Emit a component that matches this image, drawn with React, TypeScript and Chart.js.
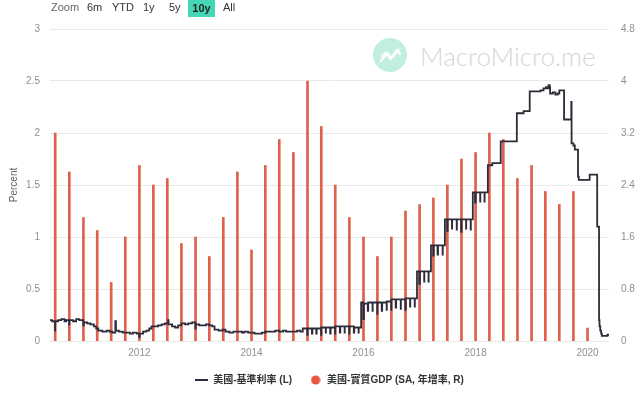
import React, { useEffect, useRef } from 'react';
import { Chart, registerables } from 'chart.js';

Chart.register(...registerables);

const FONT = "'Liberation Sans', 'Noto Sans CJK TC', sans-serif";
const LINE_COLOR = '#2c2c3a';
const BAR_COLOR = '#df604b';
const DOT_COLOR = '#e8553d';

// ---- Data ----
const axisStart = '2010-05-28';
const axisEnd = '2020-05-20';

const xTickYears = [2012, 2014, 2016, 2018, 2020];
const leftTicks = [0, 0.5, 1, 1.5, 2, 2.5, 3];
const rightTicks = [0, 0.8, 1.6, 2.4, 3.2, 4, 4.8];

const gdpDates = [
  '2010-07-01', '2010-10-01',
  '2011-01-01', '2011-04-01', '2011-07-01', '2011-10-01',
  '2012-01-01', '2012-04-01', '2012-07-01', '2012-10-01',
  '2013-01-01', '2013-04-01', '2013-07-01', '2013-10-01',
  '2014-01-01', '2014-04-01', '2014-07-01', '2014-10-01',
  '2015-01-01', '2015-04-01', '2015-07-01', '2015-10-01',
  '2016-01-01', '2016-04-01', '2016-07-01', '2016-10-01',
  '2017-01-01', '2017-04-01', '2017-07-01', '2017-10-01',
  '2018-01-01', '2018-04-01', '2018-07-01', '2018-10-01',
  '2019-01-01', '2019-04-01', '2019-07-01', '2019-10-01',
  '2020-01-01',
];
const gdpValues = [
  3.2, 2.6,
  1.9, 1.7, 0.9, 1.6,
  2.7, 2.4, 2.5, 1.5,
  1.6, 1.3, 1.9, 2.6,
  1.4, 2.7, 3.1, 2.9,
  4.0, 3.3, 2.4, 1.9,
  1.6, 1.3, 1.6, 2.0,
  2.1, 2.2, 2.4, 2.8,
  2.9, 3.2, 3.1, 2.5,
  2.7, 2.3, 2.1, 2.3,
  0.2,
];

const rate2010_2011: [string, number][] = [
  ['2010-05-28', 0.20], ['2010-06-10', 0.19], ['2010-06-30', 0.10], ['2010-07-01', 0.19],
  ['2010-07-20', 0.20], ['2010-08-10', 0.21], ['2010-08-31', 0.19], ['2010-09-10', 0.20],
  ['2010-09-30', 0.16], ['2010-10-01', 0.20], ['2010-10-25', 0.19], ['2010-11-15', 0.21],
  ['2010-12-05', 0.20], ['2010-12-31', 0.15], ['2011-01-03', 0.18], ['2011-01-25', 0.17],
  ['2011-02-15', 0.16], ['2011-03-10', 0.14], ['2011-03-25', 0.12], ['2011-04-08', 0.10],
  ['2011-05-05', 0.09], ['2011-06-01', 0.10], ['2011-06-20', 0.09], ['2011-07-08', 0.08],
  ['2011-07-28', 0.19], ['2011-08-01', 0.10], ['2011-08-20', 0.09], ['2011-09-15', 0.08],
  ['2011-10-10', 0.08], ['2011-10-31', 0.07], ['2011-11-20', 0.08], ['2011-12-15', 0.07],
  ['2011-12-30', 0.04],
];

const rate2012_2013: [string, number][] = [
  ['2012-01-03', 0.07], ['2012-01-25', 0.09], ['2012-02-15', 0.10], ['2012-03-05', 0.12],
  ['2012-03-20', 0.14], ['2012-04-10', 0.14], ['2012-05-01', 0.15], ['2012-05-25', 0.16],
  ['2012-06-15', 0.17], ['2012-07-06', 0.20], ['2012-07-09', 0.16], ['2012-08-01', 0.14],
  ['2012-08-20', 0.13], ['2012-09-10', 0.15], ['2012-10-01', 0.17], ['2012-10-25', 0.16],
  ['2012-11-15', 0.17], ['2012-12-10', 0.18], ['2012-12-31', 0.12], ['2013-01-02', 0.16],
  ['2013-01-25', 0.15], ['2013-02-15', 0.15], ['2013-03-10', 0.16], ['2013-04-01', 0.15],
  ['2013-04-20', 0.14], ['2013-05-05', 0.11], ['2013-06-01', 0.10], ['2013-06-25', 0.11],
  ['2013-07-15', 0.09], ['2013-08-10', 0.08], ['2013-09-05', 0.09], ['2013-10-01', 0.09],
  ['2013-10-31', 0.08], ['2013-11-15', 0.09], ['2013-12-10', 0.08],
];

const rate2014_2015: [string, number][] = [
  ['2014-01-02', 0.08], ['2014-01-20', 0.07], ['2014-02-15', 0.07], ['2014-03-10', 0.08],
  ['2014-04-01', 0.09], ['2014-04-25', 0.09], ['2014-05-15', 0.09], ['2014-06-05', 0.10],
  ['2014-07-01', 0.09], ['2014-07-25', 0.10], ['2014-08-15', 0.09], ['2014-09-05', 0.09],
  ['2014-10-01', 0.09], ['2014-10-25', 0.10], ['2014-11-15', 0.09], ['2014-12-01', 0.12],
  ['2014-12-31', 0.06], ['2015-01-02', 0.12], ['2015-01-30', 0.07], ['2015-02-02', 0.12],
  ['2015-02-27', 0.07], ['2015-03-02', 0.12], ['2015-03-31', 0.06], ['2015-04-01', 0.13],
  ['2015-04-30', 0.08], ['2015-05-01', 0.13], ['2015-05-29', 0.07], ['2015-06-01', 0.13],
  ['2015-06-30', 0.07], ['2015-07-01', 0.14], ['2015-07-31', 0.08], ['2015-08-03', 0.14],
  ['2015-08-31', 0.08], ['2015-09-01', 0.14], ['2015-09-30', 0.07], ['2015-10-01', 0.14],
  ['2015-10-30', 0.08], ['2015-11-02', 0.13], ['2015-11-30', 0.08], ['2015-12-01', 0.13],
];

const rate2016_2018: [string, number][] = [
  ['2015-12-17', 0.37], ['2015-12-31', 0.21], ['2016-01-04', 0.36],
  ['2016-01-29', 0.29], ['2016-02-01', 0.37], ['2016-02-29', 0.29], ['2016-03-01', 0.37],
  ['2016-03-31', 0.26], ['2016-04-01', 0.37], ['2016-04-29', 0.29], ['2016-05-02', 0.37],
  ['2016-05-31', 0.30], ['2016-06-01', 0.38], ['2016-06-30', 0.30], ['2016-07-01', 0.40],
  ['2016-07-29', 0.32], ['2016-08-01', 0.40], ['2016-08-31', 0.31], ['2016-09-01', 0.40],
  ['2016-09-30', 0.30], ['2016-10-03', 0.41], ['2016-10-31', 0.33], ['2016-11-01', 0.41],
  ['2016-11-30', 0.33], ['2016-12-01', 0.41],
  ['2016-12-15', 0.67], ['2016-12-30', 0.55], ['2017-01-03', 0.67], ['2017-01-31', 0.57],
  ['2017-02-01', 0.67], ['2017-02-28', 0.57], ['2017-03-01', 0.67],
  ['2017-03-16', 0.92], ['2017-03-31', 0.82], ['2017-04-03', 0.92], ['2017-04-28', 0.83],
  ['2017-05-01', 0.92], ['2017-05-31', 0.83], ['2017-06-01', 0.92],
  ['2017-06-15', 1.17], ['2017-06-30', 1.06], ['2017-07-03', 1.17], ['2017-07-31', 1.08],
  ['2017-08-01', 1.17], ['2017-08-31', 1.07], ['2017-09-01', 1.17], ['2017-09-29', 1.05],
  ['2017-10-02', 1.17], ['2017-10-31', 1.08], ['2017-11-01', 1.17], ['2017-11-30', 1.07],
  ['2017-12-01', 1.17],
  ['2017-12-14', 1.43], ['2017-12-29', 1.33], ['2018-01-02', 1.43], ['2018-01-31', 1.34],
  ['2018-02-01', 1.43], ['2018-02-28', 1.34], ['2018-03-01', 1.43],
  ['2018-03-22', 1.69], ['2018-04-20', 1.71], ['2018-06-14', 1.92], ['2018-08-01', 1.92],
  ['2018-09-27', 2.19], ['2018-11-10', 2.21], ['2018-12-20', 2.40],
];

const rate2019_2020: [string, number][] = [
  ['2019-01-10', 2.40], ['2019-03-01', 2.41], ['2019-03-20', 2.43], ['2019-04-05', 2.44],
  ['2019-04-15', 2.43], ['2019-04-22', 2.46], ['2019-04-29', 2.44], ['2019-05-02', 2.38],
  ['2019-05-20', 2.39], ['2019-06-05', 2.37], ['2019-06-20', 2.38], ['2019-07-01', 2.41],
  ['2019-08-01', 2.13], ['2019-09-17', 2.30], ['2019-09-19', 1.90], ['2019-10-01', 1.88],
  ['2019-10-10', 1.84], ['2019-10-31', 1.58], ['2019-11-05', 1.55], ['2020-01-15', 1.60],
  ['2020-03-04', 1.10], ['2020-03-16', 0.20], ['2020-03-19', 0.14], ['2020-03-24', 0.10],
  ['2020-03-30', 0.07], ['2020-04-03', 0.05], ['2020-05-01', 0.05], ['2020-05-10', 0.06],
  ['2020-05-20', 0.06],
];

const zoomLabels = ['6m', 'YTD', '1y', '5y', '10y', 'All'];
const zoomLefts = [87, 112, 143, 169, 188, 223];

const t = (s: string) => Date.parse(s + 'T00:00:00Z');

export default function App() {
  const ref = useRef<HTMLCanvasElement>(null);

  useEffect(() => {
    const canvas = ref.current;
    if (!canvas) return;

    const lineIcon = document.createElement('canvas');
    lineIcon.width = 13;
    lineIcon.height = 2;
    const lc = lineIcon.getContext('2d')!;
    lc.fillStyle = LINE_COLOR;
    lc.fillRect(0, 0, 13, 2);

    const dotIcon = document.createElement('canvas');
    dotIcon.width = 10;
    dotIcon.height = 10;
    const dc = dotIcon.getContext('2d')!;
    dc.fillStyle = DOT_COLOR;
    dc.beginPath();
    dc.arc(5, 5, 4.6, 0, Math.PI * 2);
    dc.fill();

    const ratePoints = [...rate2010_2011, ...rate2012_2013, ...rate2014_2015, ...rate2016_2018, ...rate2019_2020]
      .map(([d, v]) => ({ x: t(d), y: v }));
    const gdpPoints = gdpDates.map((d, i) => ({ x: t(d), y: gdpValues[i] }));

    const tickFont = { family: FONT, size: 10 };

    const chart = new Chart(canvas, {
      type: 'bar',
      data: {
        datasets: [
          {
            type: 'line',
            label: '美國-基準利率 (L)',
            data: ratePoints,
            yAxisID: 'y',
            borderColor: LINE_COLOR,
            backgroundColor: LINE_COLOR,
            borderWidth: 1.8,
            pointRadius: 0,
            pointHoverRadius: 0,
            stepped: true,
            fill: false,
            order: 0,
            pointStyle: lineIcon,
          } as any,
          {
            type: 'bar',
            label: '美國-實質GDP (SA, 年增率, R)',
            data: gdpPoints,
            yAxisID: 'y1',
            backgroundColor: BAR_COLOR,
            borderWidth: 0,
            barThickness: 2,
            grouped: false,
            order: 1,
            pointStyle: dotIcon,
          } as any,
        ],
      },
      options: {
        animation: false,
        responsive: false,
        maintainAspectRatio: false,
        layout: { padding: { top: 29, left: 0, right: 0, bottom: -2 } },
        plugins: {
          tooltip: { enabled: false },
          legend: {
            position: 'bottom',
            fullSize: false,
            labels: {
              usePointStyle: true,
              pointStyleWidth: 13,
              boxHeight: 10,
              padding: 17,
              color: '#333',
              font: { family: FONT, size: 10, weight: 'bold' },
            },
          },
        },
        scales: {
          x: {
            type: 'linear',
            offset: false,
            min: t(axisStart),
            max: t(axisEnd),
            grid: { display: false, offset: false, drawTicks: false },
            border: { display: false },
            ticks: {
              color: '#909090',
              font: tickFont,
              padding: 6,
              maxRotation: 0,
              autoSkip: false,
              callback: (v: any) => String(new Date(Number(v)).getUTCFullYear()),
            },
            afterBuildTicks: (s: any) => {
              s.ticks = xTickYears.map((y) => ({ value: Date.UTC(y, 0, 1) }));
            },
            afterFit: (s: any) => {
              s.height = 17;
            },
          },
          y: {
            position: 'left',
            min: 0,
            max: 3,
            grid: { color: '#e9e9e9', drawTicks: false, lineWidth: 1 },
            border: { display: false },
            ticks: { color: '#909090', font: tickFont, padding: 10, callback: (v: any) => String(v) },
            afterBuildTicks: (s: any) => {
              s.ticks = leftTicks.map((v) => ({ value: v }));
            },
            title: {
              display: true,
              text: 'Percent',
              color: '#666',
              font: { family: FONT, size: 10 },
              padding: { top: 8, bottom: 0 },
            },
            afterFit: (s: any) => {
              s.width = 50;
            },
          },
          y1: {
            position: 'right',
            min: 0,
            max: 4.8,
            grid: { display: false, drawTicks: false },
            border: { display: false },
            ticks: {
              color: '#909090',
              font: tickFont,
              padding: 12,
              callback: (v: any) => String(Number(Number(v).toFixed(1))),
            },
            afterBuildTicks: (s: any) => {
              s.ticks = rightTicks.map((v) => ({ value: v }));
            },
            afterFit: (s: any) => {
              s.width = 31;
            },
          },
        },
      } as any,
    });

    return () => chart.destroy();
  }, []);

  return (
    <div style={{ position: 'fixed', left: 0, top: 0, width: 640, height: 393, background: '#fff', overflow: 'hidden', fontFamily: FONT }}>
      {/* watermark */}
      <div style={{ position: 'absolute', left: 373, top: 38, width: 34, height: 34, borderRadius: '50%', background: '#c2eee2' }}>
        <svg width="34" height="34" viewBox="0 0 34 34" style={{ position: 'absolute', left: 0, top: 0 }}>
          <polyline points="8,23 14,15 18,20 24,12 27,16" fill="none" stroke="#ffffff" strokeWidth="2.2" strokeLinejoin="round" strokeLinecap="round" />
          <polyline points="8,19 12,14 17,22 22,17 27,11" fill="none" stroke="#ffffff" strokeWidth="1.4" strokeLinejoin="round" strokeLinecap="round" opacity="0.8" />
        </svg>
      </div>
      <div style={{ position: 'absolute', left: 420, top: 40, fontFamily: "'Lato', 'Liberation Sans', sans-serif", fontWeight: 300, fontSize: 26, color: '#d6d6d6', lineHeight: '32px', whiteSpace: 'nowrap' }}>
        MacroMicro.me
      </div>
      <canvas ref={ref} width={640} height={393} style={{ position: 'absolute', left: 0, top: 0, width: 640, height: 393 }} />
      {/* range selector */}
      <span style={{ position: 'absolute', left: 51, top: -1, lineHeight: '17px', fontSize: 11, color: '#666' }}>Zoom</span>
      {zoomLabels.map((lab, i) =>
        lab === '10y' ? (
          <span key={lab} style={{ position: 'absolute', left: zoomLefts[i], top: 0, width: 27, height: 17, lineHeight: '16px', textAlign: 'center', fontSize: 11, fontWeight: 'bold', color: '#222', background: '#45d6b6' }}>{lab}</span>
        ) : (
          <span key={lab} style={{ position: 'absolute', left: zoomLefts[i], top: -1, lineHeight: '17px', fontSize: 11, color: '#333' }}>{lab}</span>
        )
      )}
    </div>
  );
}
